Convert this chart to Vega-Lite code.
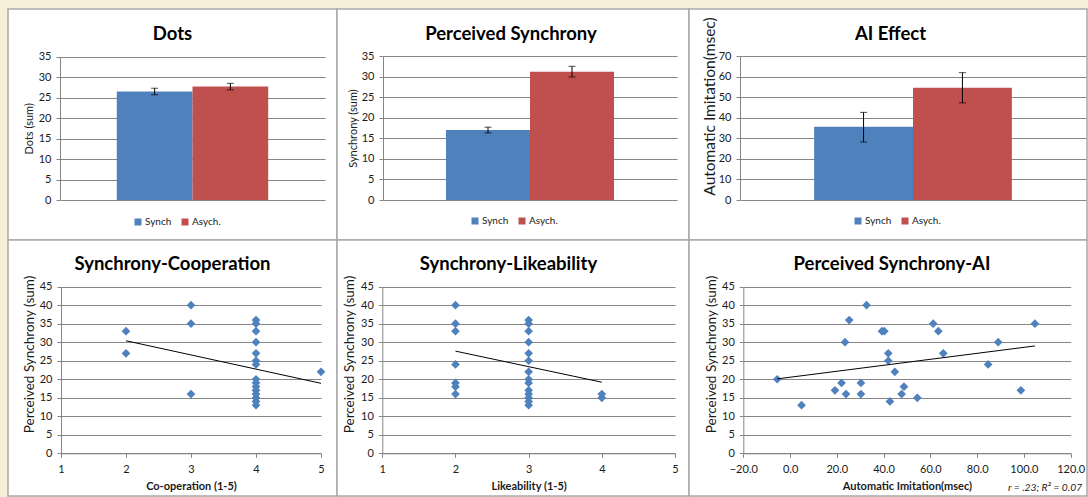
{
  "$schema": "https://vega.github.io/schema/vega-lite/v6.json",
  "background": "#f8efd9",
  "padding": {"left": 7, "top": 8, "right": 0, "bottom": 0},
  "columns": 3,
  "spacing": 0,
  "bounds": "flush",
  "align": "each",
  "resolve": {"scale": {"color": "independent"}, "legend": {"color": "independent"}},
  "config": {
    "font": "Lato",
    "view": {"fill": "white", "stroke": "#a9a9a9", "strokeWidth": 1.5},
    "axis": {
      "grid": false,
      "labelFont": "Lato", "labelFontSize": 11, "labelColor": "#1a1a1a",
      "labelFlush": false, "labelOverlap": false,
      "titleFont": "Lato", "titleColor": "#1a1a1a", "titleFontWeight": "normal",
      "tickColor": "#868686", "tickSize": 4, "domainColor": "#868686",
      "gridColor": "#868686", "gridOpacity": 1, "gridWidth": 1
    },
    "title": {"font": "Lato", "fontSize": 18.5, "fontWeight": "bold", "color": "#000000", "frame": "group", "anchor": "middle"},
    "legend": {"orient": "none", "direction": "horizontal", "symbolType": "square", "symbolSize": 49, "symbolStrokeWidth": 0, "labelFont": "Lato", "labelFontSize": 10, "labelColor": "#1a1a1a", "labelOffset": 2, "columnPadding": 8, "padding": 0}
  },
  "datasets": {
    "dots": [
      {"cond": "Synch", "mean": 26.5, "lo": 25.7, "hi": 27.3},
      {"cond": "Asych.", "mean": 27.7, "lo": 26.9, "hi": 28.5}
    ],
    "sync": [
      {"cond": "Synch", "mean": 17.0, "lo": 16.3, "hi": 17.7},
      {"cond": "Asych.", "mean": 31.2, "lo": 29.9, "hi": 32.5}
    ],
    "aieff": [
      {"cond": "Synch", "mean": 35.6, "lo": 28.2, "hi": 42.6},
      {"cond": "Asych.", "mean": 54.6, "lo": 47.2, "hi": 61.9}
    ],
    "coop": [
      {"coop": 2, "sync": 33}, {"coop": 2, "sync": 27},
      {"coop": 3, "sync": 40}, {"coop": 3, "sync": 35}, {"coop": 3, "sync": 16},
      {"coop": 4, "sync": 36}, {"coop": 4, "sync": 35}, {"coop": 4, "sync": 33}, {"coop": 4, "sync": 30},
      {"coop": 4, "sync": 27}, {"coop": 4, "sync": 25}, {"coop": 4, "sync": 24}, {"coop": 4, "sync": 20},
      {"coop": 4, "sync": 19}, {"coop": 4, "sync": 18}, {"coop": 4, "sync": 17}, {"coop": 4, "sync": 16},
      {"coop": 4, "sync": 15}, {"coop": 4, "sync": 14}, {"coop": 4, "sync": 13},
      {"coop": 5, "sync": 22}
    ],
    "coopTrend": [{"coop": 2, "sync": 30.4}, {"coop": 5, "sync": 18.9}],
    "like": [
      {"like": 2, "sync": 40}, {"like": 2, "sync": 35}, {"like": 2, "sync": 33}, {"like": 2, "sync": 24},
      {"like": 2, "sync": 19}, {"like": 2, "sync": 18}, {"like": 2, "sync": 16},
      {"like": 3, "sync": 36}, {"like": 3, "sync": 35}, {"like": 3, "sync": 33}, {"like": 3, "sync": 30},
      {"like": 3, "sync": 27}, {"like": 3, "sync": 25}, {"like": 3, "sync": 22}, {"like": 3, "sync": 20},
      {"like": 3, "sync": 19}, {"like": 3, "sync": 17}, {"like": 3, "sync": 16}, {"like": 3, "sync": 15},
      {"like": 3, "sync": 14}, {"like": 3, "sync": 13},
      {"like": 4, "sync": 16}, {"like": 4, "sync": 15}
    ],
    "likeTrend": [{"like": 2, "sync": 27.6}, {"like": 4, "sync": 19.2}],
    "ai": [
      {"ai": -5.5, "sync": 20}, {"ai": 4.9, "sync": 13}, {"ai": 19.2, "sync": 17}, {"ai": 22.0, "sync": 19},
      {"ai": 23.9, "sync": 16}, {"ai": 23.5, "sync": 30}, {"ai": 25.3, "sync": 36}, {"ai": 30.3, "sync": 19},
      {"ai": 30.3, "sync": 16}, {"ai": 32.7, "sync": 40}, {"ai": 39.3, "sync": 33}, {"ai": 40.3, "sync": 33},
      {"ai": 42.0, "sync": 27}, {"ai": 42.0, "sync": 25}, {"ai": 44.8, "sync": 22}, {"ai": 48.7, "sync": 18},
      {"ai": 47.7, "sync": 16}, {"ai": 42.7, "sync": 14}, {"ai": 54.4, "sync": 15}, {"ai": 61.2, "sync": 35},
      {"ai": 63.4, "sync": 33}, {"ai": 65.5, "sync": 27}, {"ai": 84.7, "sync": 24}, {"ai": 89.0, "sync": 30},
      {"ai": 98.7, "sync": 17}, {"ai": 104.7, "sync": 35}
    ],
    "aiTrend": [{"ai": -5.5, "sync": 20.1}, {"ai": 104.7, "sync": 29.0}]
  },
  "concat": [
    {
      "width": 329, "height": 231,
      "title": {"text": "Dots", "offset": -34.75},
      "data": {"name": "dots"},
      "encoding": {
        "x": {"field": "cond", "type": "nominal", "sort": null, "scale": {"domain": ["Synch", "Asych."], "range": [52, 317], "paddingInner": 0, "paddingOuter": 0.75}, "axis": null}
      },
      "layer": [
        {
          "mark": {"type": "bar"},
          "encoding": {
            "y": {"field": "mean", "type": "quantitative", "scale": {"domain": [0, 35], "range": [191, 47.7], "nice": false, "zero": false},
                  "axis": {"values": [0, 5, 10, 15, 20, 25, 30, 35], "grid": true, "domain": true, "offset": -52, "labelPadding": 5, "title": "Dots (sum)", "titleFontSize": 11, "titlePadding": 5.5, "minExtent": 20, "maxExtent": 20}},
            "y2": {"datum": 0},
            "color": {"field": "cond", "type": "nominal", "sort": null, "scale": {"domain": ["Synch", "Asych."], "range": ["#4F81BD", "#C0504D"]}, "legend": {"title": null, "legendX": 125, "legendY": 208}}
          }
        },
        {
          "mark": {"type": "errorbar", "ticks": {"size": 7}, "color": "black"},
          "encoding": {
            "y": {"field": "lo", "type": "quantitative", "scale": {"domain": [0, 35], "range": [191, 47.7], "nice": false, "zero": false},
                  "axis": {"values": [0, 5, 10, 15, 20, 25, 30, 35], "grid": true, "domain": true, "offset": -52, "labelPadding": 5, "title": "Dots (sum)", "titleFontSize": 11, "titlePadding": 5.5, "minExtent": 20, "maxExtent": 20}},
            "y2": {"field": "hi"}
          }
        }
      ]
    },
    {
      "width": 352, "height": 231,
      "title": {"text": "Perceived Synchrony", "offset": -34.75, "dx": -2},
      "data": {"name": "sync"},
      "encoding": {
        "x": {"field": "cond", "type": "nominal", "sort": null, "scale": {"domain": ["Synch", "Asych."], "range": [46, 340], "paddingInner": 0, "paddingOuter": 0.75}, "axis": null}
      },
      "layer": [
        {
          "mark": {"type": "bar"},
          "encoding": {
            "y": {"field": "mean", "type": "quantitative", "scale": {"domain": [0, 35], "range": [191, 47], "nice": false, "zero": false},
                  "axis": {"values": [0, 5, 10, 15, 20, 25, 30, 35], "grid": true, "domain": true, "offset": -46, "labelPadding": 5, "title": "Synchrony (sum)", "titleFontSize": 11, "titlePadding": 4.5, "minExtent": 20, "maxExtent": 20}},
            "y2": {"datum": 0},
            "color": {"field": "cond", "type": "nominal", "sort": null, "scale": {"domain": ["Synch", "Asych."], "range": ["#4F81BD", "#C0504D"]}, "legend": {"title": null, "legendX": 133, "legendY": 207}}
          }
        },
        {
          "mark": {"type": "errorbar", "ticks": {"size": 7}, "color": "black"},
          "encoding": {
            "y": {"field": "lo", "type": "quantitative", "scale": {"domain": [0, 35], "range": [191, 47], "nice": false, "zero": false},
                  "axis": {"values": [0, 5, 10, 15, 20, 25, 30, 35], "grid": true, "domain": true, "offset": -46, "labelPadding": 5, "title": "Synchrony (sum)", "titleFontSize": 11, "titlePadding": 4.5, "minExtent": 20, "maxExtent": 20}},
            "y2": {"field": "hi"}
          }
        }
      ]
    },
    {
      "width": 398, "height": 231,
      "title": {"text": "AI Effect", "offset": -34.75, "dx": 2.5},
      "data": {"name": "aieff"},
      "encoding": {
        "x": {"field": "cond", "type": "nominal", "sort": null, "scale": {"domain": ["Synch", "Asych."], "range": [51, 397], "paddingInner": 0, "paddingOuter": 0.75}, "axis": null}
      },
      "layer": [
        {
          "mark": {"type": "bar"},
          "encoding": {
            "y": {"field": "mean", "type": "quantitative", "scale": {"domain": [0, 70], "range": [191, 47], "nice": false, "zero": false},
                  "axis": {"values": [0, 10, 20, 30, 40, 50, 60, 70], "grid": true, "domain": true, "offset": -51, "labelPadding": 5, "title": "Automatic Imitation(msec)", "titleFontSize": 15.5, "titleX": -22.3, "titleY": 97, "minExtent": 20, "maxExtent": 20}},
            "y2": {"datum": 0},
            "color": {"field": "cond", "type": "nominal", "sort": null, "scale": {"domain": ["Synch", "Asych."], "range": ["#4F81BD", "#C0504D"]}, "legend": {"title": null, "legendX": 164, "legendY": 207}}
          }
        },
        {
          "mark": {"type": "errorbar", "ticks": {"size": 7}, "color": "black"},
          "encoding": {
            "y": {"field": "lo", "type": "quantitative", "scale": {"domain": [0, 70], "range": [191, 47], "nice": false, "zero": false},
                  "axis": {"values": [0, 10, 20, 30, 40, 50, 60, 70], "grid": true, "domain": true, "offset": -51, "labelPadding": 5, "title": "Automatic Imitation(msec)", "titleFontSize": 15.5, "titleX": -22.3, "titleY": 97, "minExtent": 20, "maxExtent": 20}},
            "y2": {"field": "hi"}
          }
        }
      ]
    },
    {
      "width": 329, "height": 256,
      "title": {"text": "Synchrony-Cooperation", "offset": -33.5},
      "encoding": {
        "x": {"field": "coop", "type": "quantitative", "scale": {"domain": [1, 5], "range": [53, 313], "nice": false, "zero": false},
              "axis": {"values": [1, 2, 3, 4, 5], "domain": true, "offset": -42.7, "labelPadding": 6, "title": "Co-operation (1-5)", "titleFontWeight": "bold", "titleFontSize": 11, "titlePadding": 8.7, "minExtent": 18, "maxExtent": 18}},
        "y": {"field": "sync", "type": "quantitative", "scale": {"domain": [0, 45], "range": [213.3, 46.7], "nice": false, "zero": false},
              "axis": {"values": [0, 5, 10, 15, 20, 25, 30, 35, 40, 45], "grid": true, "domain": true, "offset": -53, "labelPadding": 5, "title": "Perceived Synchrony (sum)", "titleFontSize": 13.5, "titleX": -24.25, "titleY": 114, "minExtent": 20, "maxExtent": 20}}
      },
      "layer": [
        {
          "data": {"name": "coop"},
          "mark": {"type": "point", "shape": "diamond", "filled": true, "size": 76, "color": "#4F81BD", "opacity": 1}
        },
        {
          "data": {"name": "coopTrend"},
          "mark": {"type": "line", "color": "black", "strokeWidth": 1}
        }
      ]
    },
    {
      "width": 352, "height": 256,
      "title": {"text": "Synchrony-Likeability", "offset": -33.5, "dx": -4.5},
      "encoding": {
        "x": {"field": "like", "type": "quantitative", "scale": {"domain": [1, 5], "range": [45.3, 338], "nice": false, "zero": false},
              "axis": {"values": [1, 2, 3, 4, 5], "domain": true, "offset": -42.7, "labelPadding": 6, "title": "Likeability (1-5)", "titleFontWeight": "bold", "titleFontSize": 11, "titlePadding": 8.7, "minExtent": 18, "maxExtent": 18}},
        "y": {"field": "sync", "type": "quantitative", "scale": {"domain": [0, 45], "range": [213.3, 46.7], "nice": false, "zero": false},
              "axis": {"values": [0, 5, 10, 15, 20, 25, 30, 35, 40, 45], "grid": true, "domain": true, "offset": -45.3, "labelPadding": 5, "title": "Perceived Synchrony (sum)", "titleFontSize": 13.5, "titleX": -26.25, "titleY": 114, "minExtent": 20, "maxExtent": 20}}
      },
      "layer": [
        {
          "data": {"name": "like"},
          "mark": {"type": "point", "shape": "diamond", "filled": true, "size": 76, "color": "#4F81BD", "opacity": 1}
        },
        {
          "data": {"name": "likeTrend"},
          "mark": {"type": "line", "color": "black", "strokeWidth": 1}
        }
      ]
    },
    {
      "width": 398, "height": 256,
      "title": {"text": "Perceived Synchrony-AI", "offset": -33.5, "dx": 4},
      "encoding": {
        "x": {"field": "ai", "type": "quantitative", "scale": {"domain": [-20, 120], "range": [54.3, 381.7], "nice": false, "zero": false},
              "axis": {"values": [-20, 0, 20, 40, 60, 80, 100, 120], "format": ".1f", "domain": true, "offset": -42.7, "labelPadding": 6, "title": "Automatic Imitation(msec)", "titleFontWeight": "bold", "titleFontSize": 11, "titlePadding": 8.7, "minExtent": 18, "maxExtent": 18}},
        "y": {"field": "sync", "type": "quantitative", "scale": {"domain": [0, 45], "range": [213.3, 46.7], "nice": false, "zero": false},
              "axis": {"values": [0, 5, 10, 15, 20, 25, 30, 35, 40, 45], "grid": true, "domain": true, "offset": -54.3, "labelPadding": 5, "title": "Perceived Synchrony (sum)", "titleFontSize": 13.5, "titleX": -24.85, "titleY": 114, "minExtent": 20, "maxExtent": 20}}
      },
      "layer": [
        {
          "data": {"name": "ai"},
          "mark": {"type": "point", "shape": "diamond", "filled": true, "size": 76, "color": "#4F81BD", "opacity": 1}
        },
        {
          "data": {"name": "aiTrend"},
          "mark": {"type": "line", "color": "black", "strokeWidth": 1}
        },
        {
          "data": {"name": "aiTrend"},
          "transform": [{"filter": "datum.ai > 100"}],
          "mark": {"type": "text", "text": "r  = .23; R² = 0.07", "align": "left", "baseline": "alphabetic", "fontStyle": "italic", "fontSize": 10.3, "color": "#1a1a1a", "limit": 80, "ellipsis": " "},
          "encoding": {
            "x": {"datum": 93.2, "type": "quantitative", "scale": {"domain": [-20, 120], "range": [54.3, 381.7], "nice": false, "zero": false},
                  "axis": {"values": [-20, 0, 20, 40, 60, 80, 100, 120], "format": ".1f", "domain": true, "offset": -42.7, "labelPadding": 6, "title": "Automatic Imitation(msec)", "titleFontWeight": "bold", "titleFontSize": 11, "titlePadding": 8.7, "minExtent": 18, "maxExtent": 18}},
            "y": {"datum": -10.2, "type": "quantitative", "scale": {"domain": [0, 45], "range": [213.3, 46.7], "nice": false, "zero": false},
                  "axis": {"values": [0, 5, 10, 15, 20, 25, 30, 35, 40, 45], "grid": true, "domain": true, "offset": -54.3, "labelPadding": 5, "title": "Perceived Synchrony (sum)", "titleFontSize": 13.5, "titleX": -24.85, "titleY": 114, "minExtent": 20, "maxExtent": 20}}
          }
        }
      ]
    }
  ]
}
